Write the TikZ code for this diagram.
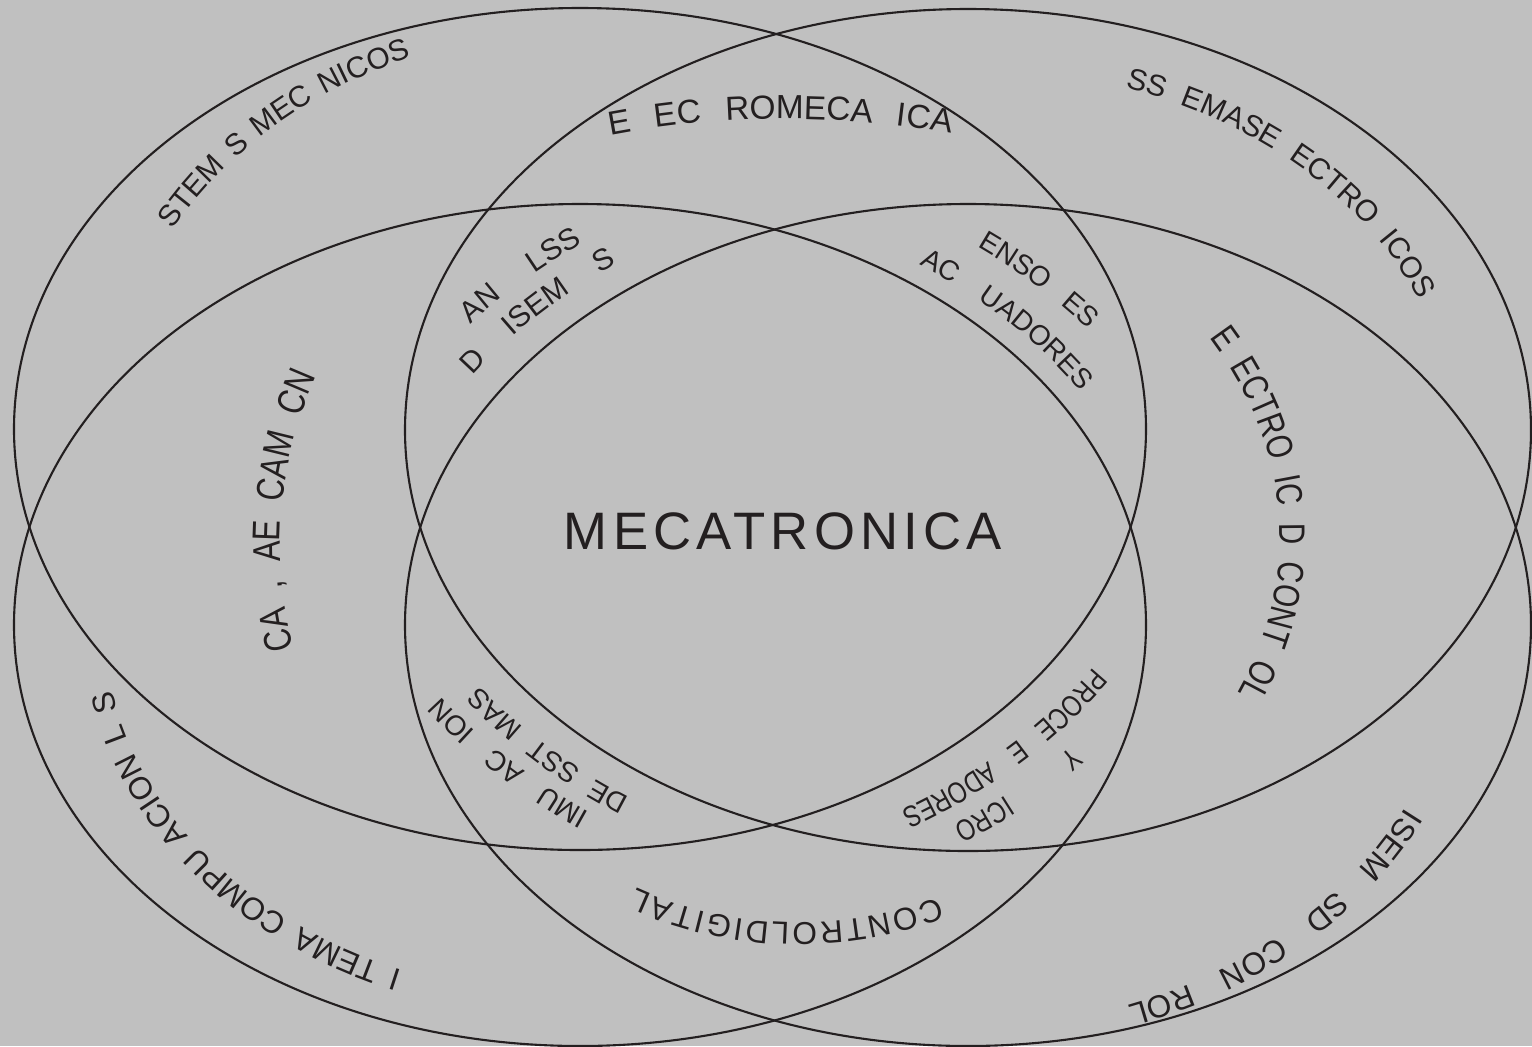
\documentclass[tikz,border=0pt]{standalone}
\usepackage{fontspec}
\setmainfont{Liberation Sans}
\newfontfamily\narrowfont[FakeStretch=0.8]{Liberation Sans}
\newfontfamily\titlefont[LetterSpace=10]{Liberation Sans}
\usetikzlibrary{decorations.text}

\definecolor{paper}{RGB}{192,192,192}
\definecolor{ink}{RGB}{35,31,32}
\newcommand\arcfont[1]{\fontsize{#1}{#1}\selectfont\color{ink}}
\newcommand\arcnarrow[1]{\narrowfont\fontsize{#1}{#1}\selectfont\color{ink}}

\begin{document}
\begin{tikzpicture}[x=0.02cm, y=-0.02cm,
  ring/.style={ink, line width=1.2pt},
  arctext/.style 2 args={decorate, decoration={text along path,
    text align=fit to path stretching spaces, text={|\arcfont{#1}|#2}}},
  arcfit/.style 2 args={decorate, decoration={text along path,
    text align=fit to path, text={|\arcfont{#1}|#2}}},
  arcnarrow/.style 2 args={decorate, decoration={text along path,
    text align=fit to path stretching spaces, text={|\arcnarrow{#1}|#2}}}]
  \fill[paper] (0,0) rectangle (1532,1046);
  \useasboundingbox (0,0) rectangle (1532,1046);
  \draw[ring] (580,429) ellipse [x radius=566, y radius=421];
  \draw[ring] (968,430) ellipse [x radius=563, y radius=421];
  \draw[ring] (580,625) ellipse [x radius=566, y radius=421];
  \draw[ring] (968,625) ellipse [x radius=563, y radius=421];
  \node[ink] (title) at (783,531) {\titlefont\fontsize{30}{30}\selectfont MECATRONICA};

  \path[arctext={17}{STEM S MEC NICOS}] ({580+470*cos(210)},{429+398*sin(210)})
    arc[start angle=210, end angle=249, x radius=470, y radius=398];
  \path[arctext={19}{E EC ROMECA ICA}] ({785+537*cos(251)},{419+300*sin(251)})
    arc[start angle=251, end angle=288, x radius=537, y radius=300];
  \path[arctext={17}{SS EMASE ECTRO ICOS}] ({968+483*cos(289)},{430+362*sin(289)})
    arc[start angle=289, end angle=339, x radius=483, y radius=362];
  \path[arctext={17}{AN LSS}] ({968+640*cos(219)},{625+478*sin(219)})
    arc[start angle=219, end angle=233, x radius=640, y radius=478];
  \path[arctext={17}{D ISEM S}] ({968+597*cos(214)},{625+446*sin(214)})
    arc[start angle=214, end angle=234, x radius=597, y radius=446];
  \path[arctext={16}{ENSO ES}] ({580+645*cos(308)},{625+480*sin(308)})
    arc[start angle=308, end angle=322, x radius=645, y radius=480];
  \path[arctext={16}{AC UADORES}] ({580+591*cos(305)},{625+440*sin(305)})
    arc[start angle=305, end angle=328, x radius=591, y radius=440];
  \path[arcnarrow={21}{E ECTRO IC D CONT OL}] ({580+700*cos(-26)},{537+456*sin(-26)})
    arc[start angle=-26, end angle=20, x radius=700, y radius=456];
  \path[arcnarrow={22}{CA , AE CAM CN}] ({670+390*cos(165)},{545+400*sin(165)})
    arc[start angle=165, end angle=205, x radius=390, y radius=400];
  \path[arctext={18}{I TEMA COMPU ACION L S}] ({580+475*cos(112)},{625+373*sin(112)})
    arc[start angle=112, end angle=170, x radius=475, y radius=373];
  \path[arctext={16}{IMU AC ION}] ({968+636*cos(126.5)},{430+476*sin(126.5)})
    arc[start angle=126.5, end angle=146, x radius=636, y radius=476];
  \path[arctext={16}{DE SST MAS}] ({968+597*cos(124.5)},{430+446*sin(124.5)})
    arc[start angle=124.5, end angle=145, x radius=597, y radius=446];
  \path[arcnarrow={17}{PROCE E ADORES}] ({580+606*cos(32)},{429+450*sin(32)})
    arc[start angle=32, end angle=58, x radius=606, y radius=450];
  \path[arcnarrow={17}{Y ICRO}] ({580+651*cos(41)},{429+484*sin(41)})
    arc[start angle=41, end angle=55, x radius=651, y radius=484];
  \path[arcfit={18}{CONTROLDIGITAL}] ({799+358*cos(67)},{600+323*sin(67)})
    arc[start angle=67, end angle=117, x radius=358, y radius=323];
  \path[arctext={18}{ISEM SD CON ROL}] ({968+491*cos(27)},{625+402*sin(27)})
    arc[start angle=27, end angle=71, x radius=491, y radius=402];
\end{tikzpicture}
\end{document}
